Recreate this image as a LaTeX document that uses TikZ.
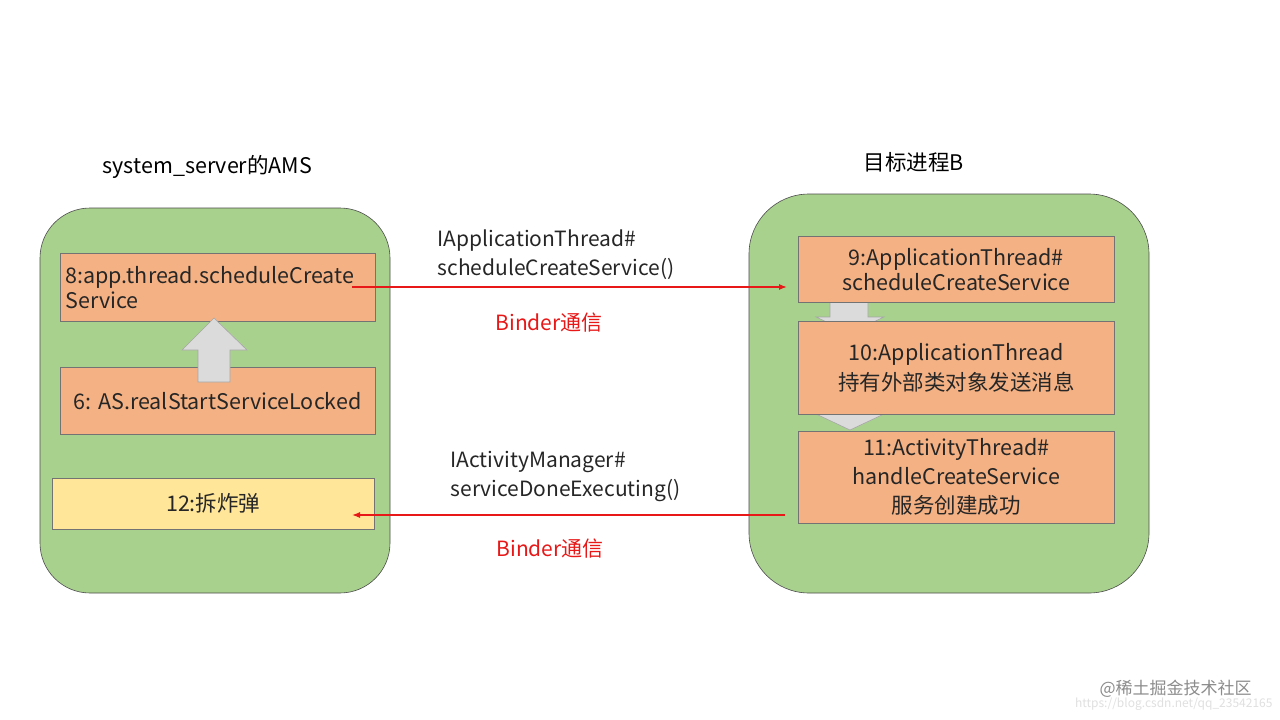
\documentclass[tikz,border=0pt]{standalone}
\usepackage{fontspec}
\usetikzlibrary{arrows.meta}
\setmainfont{Noto Sans CJK SC}
\definecolor{green1}{HTML}{A9D18E}
\definecolor{orange1}{HTML}{F4B183}
\definecolor{yellow1}{HTML}{FFE699}
\definecolor{redc}{HTML}{E81818}
\begin{document}
\begin{tikzpicture}[x=1pt,y=-1pt,
  panel/.style={draw=black!70,line width=0.6pt,fill=green1},
  box/.style={draw=black!55,line width=0.6pt,fill=orange1},
  bigarrow/.style={draw=gray!70,line width=0.6pt,fill=gray!28},
  txt/.style={font=\fontsize{21.5}{25}\selectfont,text=black!85,align=center},
  lbl/.style={font=\fontsize{21}{29}\selectfont,text=black!85,align=left,anchor=west},
  redlbl/.style={font=\fontsize{21}{24}\selectfont,text=redc,anchor=west},
  rarrow/.style={draw=redc,line width=1.3pt,-{Latex[length=8pt,width=6pt]}}]
\useasboundingbox (0,0) rectangle (1280,720);
\fill[white] (0,0) rectangle (1280,720);
% panels
\draw[panel,rounded corners=50pt] (40,208) rectangle (390,593);
\draw[panel,rounded corners=60pt] (749,194) rectangle (1149,593);
\node[font=\fontsize{21.5}{24}\selectfont,anchor=west] (t1) at (99,167) {system\_server的AMS};
\node[font=\fontsize{21.5}{24}\selectfont,anchor=west] (t2) at (860,162) {目标进程B};
% left boxes
\node[box,minimum width=315pt,minimum height=68pt,anchor=north west] (b8) at (60,253) {};
\node[txt,anchor=west,align=left] (b8t) at (62,288) {8:app.thread.scheduleCreate\\Service};
\node[box,minimum width=315pt,minimum height=67pt,anchor=north west] (b6) at (60,367) {};
\node[txt] at (b6.center) {6: AS.realStartServiceLocked};
\node[box,fill=yellow1,minimum width=322pt,minimum height=51pt,anchor=north west] (b12) at (52,478) {};
\node[txt] at (b12.center) {12:拆炸弹};
\draw[bigarrow] (198,382) -- (198,350) -- (182,350) -- (214,318) -- (247,350) -- (230,350) -- (230,382) -- cycle;
% right boxes
\draw[bigarrow] (830,300) -- (830,317) -- (816,317) -- (850,333) -- (884,317) -- (868,317) -- (868,300) -- cycle;
\draw[bigarrow] (830,398) -- (830,414) -- (816,414) -- (850,430) -- (884,414) -- (868,414) -- (868,398) -- cycle;
\node[box,minimum width=316pt,minimum height=66pt,anchor=north west] (b9) at (798,236) {};
\node[txt] at (b9.center) {9:ApplicationThread\#\\scheduleCreateService};
\node[box,minimum width=316pt,minimum height=93pt,anchor=north west] (b10) at (798,321) {};
\node[txt,font=\fontsize{21.5}{30}\selectfont] at (b10.center) {10:ApplicationThread\\持有外部类对象发送消息};
\node[box,minimum width=316pt,minimum height=92pt,anchor=north west] (b11) at (798,431) {};
\node[txt,font=\fontsize{21.5}{29}\selectfont] at (b11.center) {11:ActivityThread\#\\handleCreateService\\服务创建成功};
% connectors
\coordinate (a1s) at (352,287); \coordinate (a1e) at (787,287);
\coordinate (a2s) at (785,515); \coordinate (a2e) at (352,515);
\draw[rarrow] (a1s) -- (a1e);
\draw[rarrow] (a2s) -- (a2e);
\node[lbl] (l1) at (434,255) {IApplicationThread\#\\scheduleCreateService()};
\node[redlbl] (r1) at (492,323) {Binder通信};
\node[lbl] (l2) at (447,476) {IActivityManager\#\\serviceDoneExecuting()};
\node[redlbl] (r2) at (493,549) {Binder通信};
% watermark
\node[font=\fontsize{12}{13}\selectfont,text=black!12,anchor=east] at (1276,704) {https://blog.csdn.net/qq\_23542165};
\node[font=\fontsize{17}{18}\selectfont,text=black!45,anchor=west] at (1096,689) {@稀土掘金技术社区};
\end{tikzpicture}
\end{document}
